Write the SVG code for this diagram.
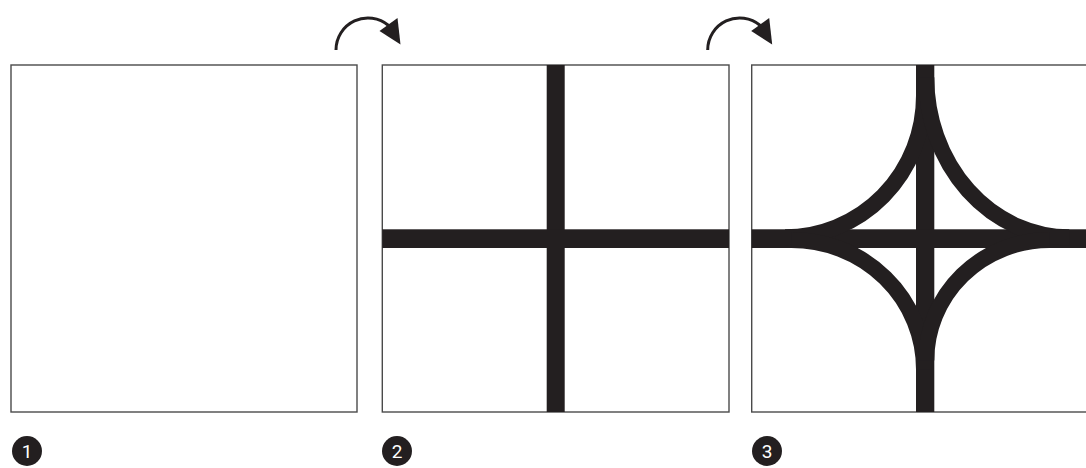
<svg xmlns="http://www.w3.org/2000/svg" width="1086" height="468" viewBox="0 0 1086 468">
  <defs>
    <style>
      .frame { fill: #ffffff; stroke: #4a4a4a; stroke-width: 1.4; }
      .bar { fill: #231f20; }
      .ramp { fill: none; stroke: #231f20; stroke-width: 16; stroke-linecap: butt; }
      .turn { fill: none; stroke: #231f20; stroke-width: 3; }
      .head { fill: #231f20; }
      .badge { fill: #231f20; }
      .num { fill: #ffffff; font-family: Roboto, "Liberation Sans", sans-serif; font-size: 19px; text-anchor: middle; }
    </style>
  </defs>
  <rect width="1086" height="468" fill="#ffffff"/>

  <g id="panel1">
    <rect class="frame" x="11" y="65" width="346" height="347"/>
    <circle class="badge" cx="27" cy="451" r="15"/>
    <text class="num" x="27" y="458">1</text>
  </g>

  <g id="panel2">
    <rect class="frame" x="382.3" y="65" width="346.7" height="347"/>
    <rect class="bar" x="546.7" y="65" width="18" height="347"/>
    <rect class="bar" x="382.3" y="229.3" width="346.7" height="18.7"/>
    <circle class="badge" cx="397" cy="451" r="15"/>
    <text class="num" x="397" y="458">2</text>
  </g>

  <g id="panel3">
    <rect class="frame" x="751.7" y="65" width="346.3" height="347"/>
    <rect class="bar" x="916" y="65" width="18.3" height="347"/>
    <rect class="bar" x="751.7" y="229.3" width="334.3" height="18.7"/>
    <path class="ramp" d="M 924,95.8 A 139 141.5 0 0 1 785,237.3"/>
    <path class="ramp" d="M 926.3,77.3 A 143 160 0 0 0 1069.3,237.3"/>
    <path class="ramp" d="M 791.6,240 A 132.4 129.3 0 0 1 924,369.3"/>
    <path class="ramp" d="M 1049.5,240 A 123.2 120.4 0 0 0 926.3,360.4"/>
    <circle class="badge" cx="767" cy="451" r="15"/>
    <text class="num" x="767" y="458">3</text>
  </g>

  <g id="connectors">
    <g id="arrow1">
      <path class="turn" d="M 336,50 A 32 32 0 0 1 388.6,25.5"/>
      <polygon class="head" points="379.5,31 397.5,18 400.5,44.5"/>
    </g>
    <g id="arrow2">
      <path class="turn" d="M 707.7,50 A 32 32 0 0 1 760.3,25.5"/>
      <polygon class="head" points="751.2,31 769.2,18 772.2,44.5"/>
    </g>
  </g>
</svg>
